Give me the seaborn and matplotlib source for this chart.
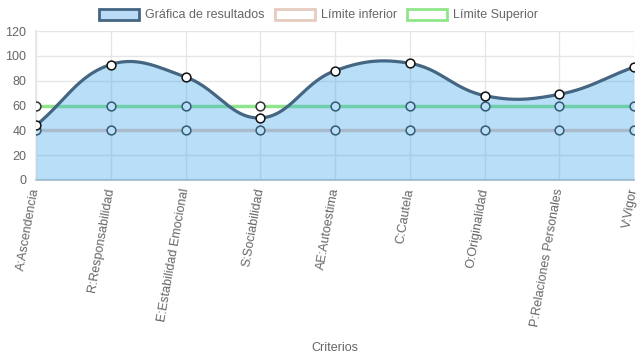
import numpy as np
import pandas as pd
import matplotlib.pyplot as plt
import seaborn as sns
from matplotlib.patches import Patch

criterios = ['A:Ascendencia', 'R:Responsabilidad', 'E:Estabilidad Emocional',
             'S:Sociabilidad', 'AE:Autoestima', 'C:Cautela', 'O:Originalidad',
             'P:Relaciones Personales', 'V:Vigor']
resultados = [44, 93, 83, 50, 88, 94, 68, 69, 91]
limite_inferior = [40, 40, 40, 40, 40, 40, 40, 40, 40]
limite_superior = [60, 60, 60, 60, 60, 60, 60, 60, 60]

LINE = '#456682'
FILL = (54 / 255, 162 / 255, 235 / 255, 0.35)
GREEN = '#8fe68a'
BEIGE = '#e6cbbf'
GRID = '#e6e6e6'
TXT = '#666666'

sns.set_theme(style='white')
plt.rcParams['font.family'] = ['Liberation Sans', 'DejaVu Sans']

fig = plt.figure(figsize=(6.37, 3.59), dpi=100)
ax = fig.add_axes([36 / 637, 1 - 180 / 359, 598 / 637, 149 / 359])

x = np.arange(len(criterios))


def spline(xs, ys, t=0.4, sx=74.7, sy=1.242, n=30):
    # curva tipo Chart.js (tension 0.4), calculada en escala de pixeles
    px = np.asarray(xs, float) * sx
    py = np.asarray(ys, float) * sy
    m = len(px)
    cp_prev, cp_next = [], []
    for i in range(m):
        p0 = (px[max(i - 1, 0)], py[max(i - 1, 0)])
        p1 = (px[i], py[i])
        p2 = (px[min(i + 1, m - 1)], py[min(i + 1, m - 1)])
        d01 = np.hypot(p1[0] - p0[0], p1[1] - p0[1])
        d12 = np.hypot(p2[0] - p1[0], p2[1] - p1[1])
        s01 = d01 / (d01 + d12) if d01 + d12 else 0
        s12 = d12 / (d01 + d12) if d01 + d12 else 0
        fa, fb = t * s01, t * s12
        cp_prev.append((p1[0] - fa * (p2[0] - p0[0]), p1[1] - fa * (p2[1] - p0[1])))
        cp_next.append((p1[0] + fb * (p2[0] - p0[0]), p1[1] + fb * (p2[1] - p0[1])))
    outx, outy = [px[0]], [py[0]]
    u = np.linspace(0, 1, n)[1:]
    for i in range(m - 1):
        P0 = np.array([px[i], py[i]])
        P1 = np.array(cp_next[i])
        P2 = np.array(cp_prev[i + 1])
        P3 = np.array([px[i + 1], py[i + 1]])
        pts = ((1 - u)[:, None] ** 3 * P0 + 3 * ((1 - u) ** 2 * u)[:, None] * P1
               + 3 * ((1 - u) * u ** 2)[:, None] * P2 + (u ** 3)[:, None] * P3)
        outx.extend(pts[:, 0])
        outy.extend(pts[:, 1])
    return np.array(outx) / sx, np.array(outy) / sy


df = pd.DataFrame({'x': x, 'res': resultados, 'inf': limite_inferior, 'sup': limite_superior})

# limites (debajo del relleno)
sns.lineplot(data=df, x='x', y='inf', ax=ax, color=BEIGE, lw=2.5, zorder=2)
sns.lineplot(data=df, x='x', y='sup', ax=ax, color=GREEN, lw=2.5, zorder=2)
for col in ['inf', 'sup']:
    sns.scatterplot(data=df, x='x', y=col, ax=ax, s=40, color='white',
                    edgecolor='#333333', linewidth=1.1, zorder=3)

sx_, sy_ = spline(x, resultados)
ax.fill_between(sx_, 0, sy_, color=FILL, lw=0, zorder=4)
ax.plot(sx_, sy_, color=LINE, lw=2.3, zorder=5, solid_capstyle='round')
sns.scatterplot(data=df, x='x', y='res', ax=ax, s=40, color='white',
                edgecolor='#111111', linewidth=1.1, zorder=6)

ax.set_xlim(0, len(criterios) - 1)
ax.set_ylim(0, 120)
ax.set_yticks(range(0, 121, 20))
ax.set_xticks(x)
ax.set_xticklabels(criterios, rotation=80, ha='right', va='center', rotation_mode='anchor')
ax.grid(True, color=GRID, lw=1, zorder=0)
ax.set_axisbelow(True)
for s in ['top', 'right']:
    ax.spines[s].set_visible(False)
ax.spines['left'].set_color(GRID)
ax.spines['bottom'].set_color('#cccccc')
ax.spines['bottom'].set_linewidth(1.5)
ax.tick_params(axis='both', length=5, color=GRID, labelcolor=TXT, labelsize=9, pad=2)
ax.tick_params(axis='x', pad=1)
ax.set_xlabel('Criterios', color=TXT, fontsize=9, labelpad=0)
ax.xaxis.set_label_coords(0.5, -1.09)
ax.set_ylabel('')

handles = [Patch(facecolor='#b9dbf8', edgecolor=LINE, lw=2),
           Patch(facecolor='white', edgecolor=BEIGE, lw=2),
           Patch(facecolor='white', edgecolor=GREEN, lw=2)]
fig.legend(handles, ['Gráfica de resultados', 'Límite inferior', 'Límite Superior'],
           loc='center', bbox_to_anchor=(0.5, 1 - 15 / 359), ncol=3, frameon=False,
           fontsize=9, labelcolor=TXT, handlelength=3.2, handleheight=1.0,
           handletextpad=0.5, columnspacing=0.8)

fig.savefig('out.png', dpi=100)
